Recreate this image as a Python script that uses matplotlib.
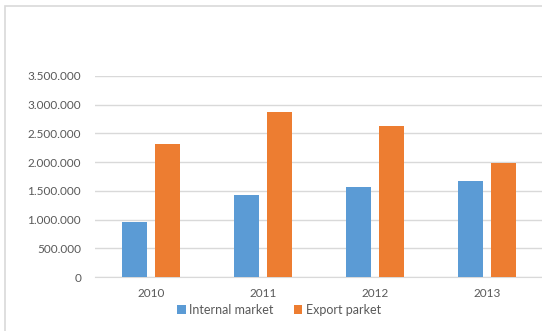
import matplotlib.pyplot as plt
from matplotlib.patches import Rectangle
from matplotlib.ticker import FuncFormatter
import numpy as np

years = ['2010', '2011', '2012', '2013']
internal_market = [960000, 1420000, 1560000, 1675000]
export_market = [2320000, 2875000, 2630000, 1980000]

plt.rcParams['font.family'] = ['Lato', 'DejaVu Sans']
text_col = '#595959'

fig = plt.figure(figsize=(5.42, 3.31), dpi=100)
W, H = 542, 331
ax = fig.add_axes([95 / W, (H - 277) / H, 448 / W, 201 / H])

# chart border (cropped at right and bottom)
fig.patches.append(Rectangle((5 / W, -0.1), 1.2, (H - 6) / H + 0.1, transform=fig.transFigure,
                             fill=False, edgecolor='#d9d9d9', linewidth=1.2))

x = np.arange(len(years))
w = 0.223
ax.bar(x - 0.143, internal_market, w, color='#5B9BD5', label='Internal market', zorder=3)
ax.bar(x + 0.143, export_market, w, color='#ED7D31', label='Export parket', zorder=3)

ax.set_xlim(-0.5, 3.5)
ax.set_ylim(0, 3500000)
ax.set_yticks(np.arange(0, 3500001, 500000))
ax.yaxis.set_major_formatter(FuncFormatter(lambda v, p: f'{int(v):,}'.replace(',', '.')))
ax.set_xticks(x)
ax.set_xticklabels(years)
ax.grid(axis='y', color='#d9d9d9', linewidth=1, zorder=0)
for s in ['top', 'right', 'left']:
    ax.spines[s].set_visible(False)
ax.spines['bottom'].set_color('#d9d9d9')
ax.tick_params(length=0, colors=text_col, labelsize=8.5)
ax.tick_params(axis='y', pad=10)
ax.tick_params(axis='x', pad=8)

fig.legend(loc='center', bbox_to_anchor=(279 / W, (H - 310) / H), ncol=2, frameon=False,
           fontsize=9, labelcolor=text_col, handlelength=0.7, handleheight=0.7,
           handletextpad=0.3, columnspacing=1.6, borderpad=0)

fig.savefig('out.png', dpi=100)
